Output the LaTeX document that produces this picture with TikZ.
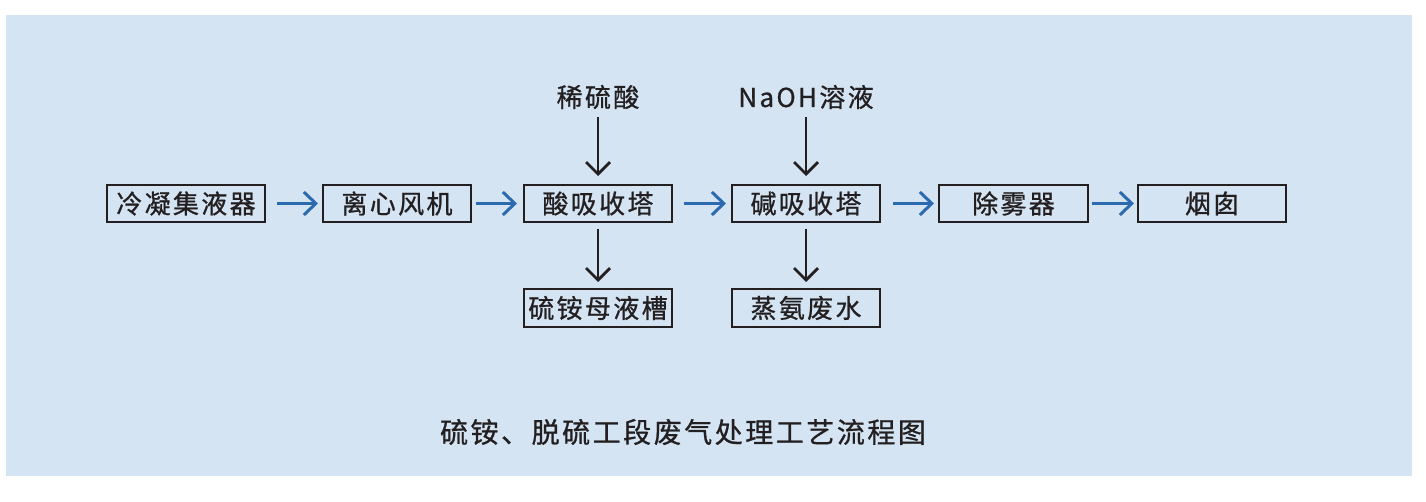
\documentclass[tikz,border=0pt]{standalone}
\usepackage{fontspec}
\setmainfont{Noto Sans CJK SC}
\newfontfamily\cjk[LetterSpace=9,FakeBold=0.8]{Noto Sans CJK SC}
\usetikzlibrary{arrows.meta}
\definecolor{bgblue}{RGB}{212,228,243}
\definecolor{ink}{RGB}{35,31,32}
\definecolor{flowblue}{RGB}{44,106,176}
\tikzset{
  box/.style={draw=ink, line width=2pt, inner sep=0pt, minimum width=148pt, minimum height=37pt, text=ink, font=\cjk\fontsize{26}{30}\selectfont},
  lbl/.style={inner sep=0pt, text=ink, font=\cjk\fontsize{26}{30}\selectfont},
  flow/.style={draw=flowblue, line width=3pt, -{Straight Barb[length=12pt,width=23pt]}},
  down/.style={draw=ink, line width=2.8pt, -{Straight Barb[length=12pt,width=24pt]}},
}
\begin{document}
\begin{tikzpicture}[x=1pt,y=-1pt]
\useasboundingbox (0,0) rectangle (1426,502);
\fill[bgblue] (6,15) rectangle (1412,476);
\node[box, minimum width=158pt] (b1) at (186,203.5) {冷凝集液器};
\node[box] (b2) at (397,203.5) {离心风机};
\node[box] (b3) at (598,203.5) {酸吸收塔};
\node[box] (b4) at (806,203.5) {碱吸收塔};
\node[box, minimum width=149pt] (b5) at (1013.5,203.5) {除雾器};
\node[box] (b6) at (1212,203.5) {烟囱};
\node[box, minimum height=38pt] (c3) at (598,308) {硫铵母液槽};
\node[box, minimum height=38pt] (c4) at (806,308) {蒸氨废水};
\node[lbl] (t3) at (598,97) {稀硫酸};
\node[lbl] (t4) at (806,97) {NaOH溶液};
\node[inner sep=0pt, text=ink, font=\cjk\fontsize{28}{32}\selectfont] (title) at (683,432) {硫铵、脱硫工段废气处理工艺流程图};
\draw[flow] ([xshift=11pt]b1.east) -- ([xshift=-4pt]b2.west);
\draw[flow] ([xshift=4pt]b2.east) -- ([xshift=-6pt]b3.west);
\draw[flow] ([xshift=11pt]b3.east) -- ([xshift=-5pt]b4.west);
\draw[flow] ([xshift=12pt]b4.east) -- ([xshift=-4pt]b5.west);
\draw[flow] ([xshift=3pt]b5.east) -- ([xshift=-3pt]b6.west);
\draw[down] ([yshift=-8pt]t3.south) -- ([yshift=8pt]b3.north);
\draw[down] ([yshift=-8pt]t4.south) -- ([yshift=8pt]b4.north);
\draw[down] ([yshift=-6pt]b3.south) -- ([yshift=6pt]c3.north);
\draw[down] ([yshift=-6pt]b4.south) -- ([yshift=6pt]c4.north);
\end{tikzpicture}
\end{document}
